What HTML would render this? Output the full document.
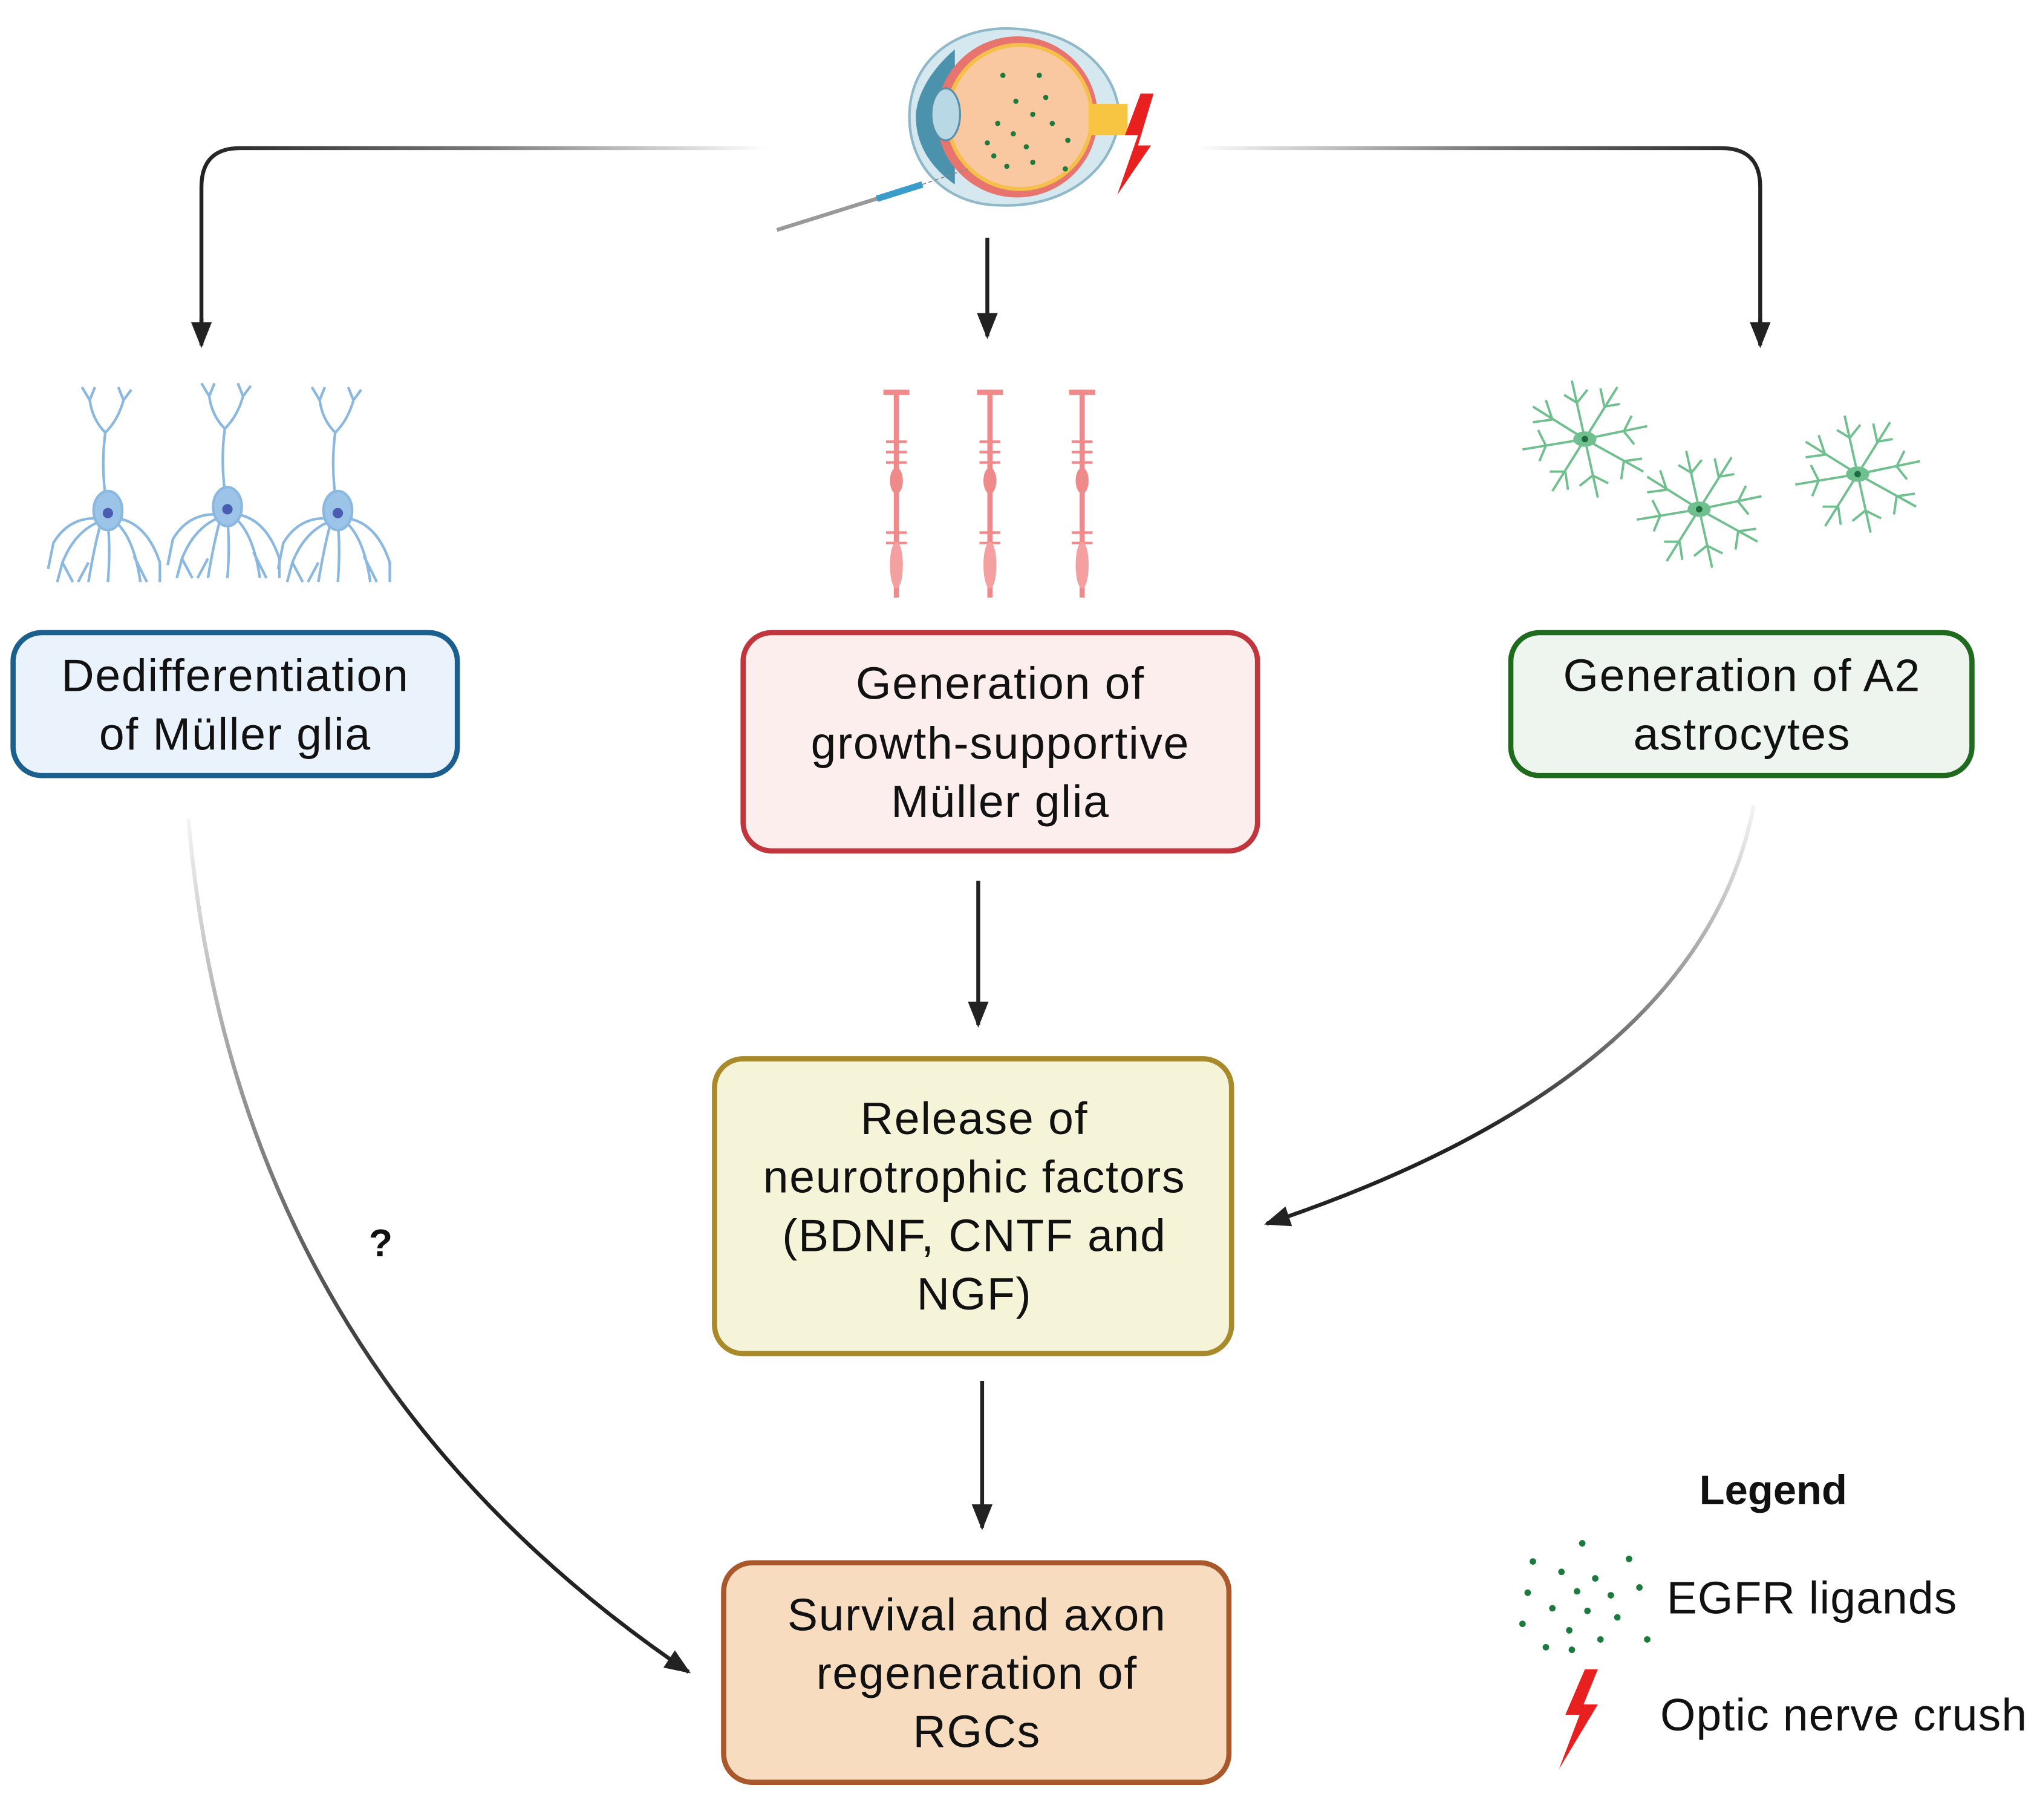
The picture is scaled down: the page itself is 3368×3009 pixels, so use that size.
<!DOCTYPE html>
<html><head><meta charset="utf-8"><style>
html,body{margin:0;padding:0;background:#fff;}
svg{display:block;}
text{font-family:"Liberation Sans",sans-serif;}
</style></head><body>
<svg width="3368" height="3009" viewBox="0 0 1568 1401" xmlns="http://www.w3.org/2000/svg">
<defs>
<linearGradient id="gl" x1="590" y1="0" x2="155" y2="0" gradientUnits="userSpaceOnUse"><stop offset="0" stop-color="#222" stop-opacity="0"/><stop offset="0.5" stop-color="#222" stop-opacity="0.6"/><stop offset="1" stop-color="#222"/></linearGradient>
<linearGradient id="gr" x1="920" y1="0" x2="1355" y2="0" gradientUnits="userSpaceOnUse"><stop offset="0" stop-color="#222" stop-opacity="0"/><stop offset="0.5" stop-color="#222" stop-opacity="0.6"/><stop offset="1" stop-color="#222"/></linearGradient>
<linearGradient id="gc1" x1="0" y1="630" x2="0" y2="1100" gradientUnits="userSpaceOnUse"><stop offset="0" stop-color="#222" stop-opacity="0.05"/><stop offset="1" stop-color="#222"/></linearGradient>
<linearGradient id="gc2" x1="1350" y1="620" x2="1150" y2="880" gradientUnits="userSpaceOnUse"><stop offset="0" stop-color="#222" stop-opacity="0.05"/><stop offset="1" stop-color="#222"/></linearGradient>
<marker id="ah2" markerWidth="20" markerHeight="20" refX="18" refY="10" orient="auto" markerUnits="userSpaceOnUse" viewBox="0 0 20 20"><path d="M0,2 L20,10 L0,18 Z" fill="#222"/></marker>
<g id="neuron" stroke="#8ab8e0" stroke-width="2" fill="none">
<path d="M0,0 Q-6,-30 -2,-60 M-2,-60 Q-12,-70 -14,-85 M-2,-60 Q8,-70 12,-85 M-14,-85 l-6,-10 M-14,-85 l4,-10 M12,-85 l-4,-10 M12,-85 l6,-8"/>
<path d="M-5,8 Q-25,15 -35,40 l-4,15 M-35,40 l8,15 M-5,8 Q-10,25 -15,55 M-15,40 l-8,15 M0,10 Q2,30 0,55 M5,8 Q20,20 25,55 M20,35 l10,20 M8,6 Q30,10 40,40 l0,15 M-8,6 Q-30,5 -42,25 l-4,20"/>
<ellipse cx="0" cy="0" rx="11" ry="15" fill="#9cc3e8" stroke="#8ab8e0"/>
<circle cx="0" cy="2" r="4" fill="#4a5cb0" stroke="none"/>
</g>
<g id="muller" fill="#f08a8a" stroke="#f08a8a">
<rect x="-10" y="0" width="20" height="4" stroke="none"/>
<rect x="-2" y="0" width="4" height="160" stroke="none"/>
<path d="M-8,40 h16 M-8,48 h16 M-8,56 h16 M-8,110 h16 M-8,118 h16" stroke-width="2" fill="none"/>
<ellipse cx="0" cy="70" rx="5" ry="10" stroke="none"/>
<ellipse cx="0" cy="135" rx="5" ry="18" stroke="none" fill="#f4a0a0"/>
</g>
<g id="astro" stroke="#6fc08e" stroke-width="1.8" fill="none">
<path d="M0,0 L-40,-25 M-25,-15 l-5,-15 M-25,-15 l-15,2 M0,0 L-10,-45 M-6,-28 l-10,-6 M-6,-28 l8,-10 M0,0 L25,-40 M15,-25 l12,-2 M15,-25 l-3,-14 M0,0 L48,-10 M30,-6 l6,-12 M30,-6 l8,10 M0,0 L45,25 M30,17 l-2,14 M30,17 l14,-2 M0,0 L10,45 M6,28 l-10,8 M6,28 l12,6 M0,0 L-25,40 M-15,25 l-12,0 M-15,25 l2,14 M0,0 L-48,8 M-30,5 l-6,-12 M-30,5 l-5,12"/>
<ellipse cx="0" cy="0" rx="8" ry="5" fill="#6fc08e"/>
<circle cx="0" cy="0" r="2.5" fill="#1d6b3e" stroke="none"/>
</g>
</defs>

<path d="M590,114 H185 Q155,114 155,144 V262" fill="none" stroke="url(#gl)" stroke-width="3"/>
<path d="M920,114 H1325 Q1355,114 1355,144 V262" fill="none" stroke="url(#gr)" stroke-width="3"/>
<path d="M155,245 V266" stroke="#222" stroke-width="3" marker-end="url(#ah2)"/>
<path d="M1355,245 V266" stroke="#222" stroke-width="3" marker-end="url(#ah2)"/>
<path d="M760,183 V259" stroke="#222" stroke-width="3" marker-end="url(#ah2)"/>
<path d="M753,678 V789" stroke="#222" stroke-width="3" marker-end="url(#ah2)"/>
<path d="M756,1063 V1176" stroke="#222" stroke-width="3" marker-end="url(#ah2)"/>
<path d="M145,630 Q180,1050 530,1287" fill="none" stroke="url(#gc1)" stroke-width="3"/>
<path d="M515,1277 L530,1287" stroke="#222" stroke-width="3" marker-end="url(#ah2)"/>
<path d="M1350,620 Q1310,830 975,942" fill="none" stroke="url(#gc2)" stroke-width="3"/>
<path d="M990,937 L975,942" stroke="#222" stroke-width="3" marker-end="url(#ah2)"/>
<text x="293" y="967" font-size="30" font-weight="bold" text-anchor="middle" fill="#111">?</text>

<g>
<path d="M770,22 C840,20 868,70 860,100 C850,140 810,160 770,158 C730,158 700,130 700,90 C700,50 730,24 770,22 Z" fill="#d6e8ef" stroke="#8fb9c9" stroke-width="2"/>
<path d="M735,38 C715,55 705,75 705,90 C705,110 715,128 735,142 Z" fill="#4b93ad"/>
<circle cx="783" cy="90" r="62" fill="#e7746f"/>
<circle cx="785" cy="90" r="57" fill="#f5c04a"/>
<circle cx="785" cy="90" r="54" fill="#f9c7a0"/>
<ellipse cx="728" cy="88" rx="11" ry="20" fill="#b8d8e6" stroke="#5590a8" stroke-width="1.5"/>
<rect x="838" y="80" width="30" height="24" fill="#f7c541"/>
<g fill="#1d7a3e">
<circle cx="772" cy="58" r="2"/><circle cx="800" cy="58" r="2"/><circle cx="782" cy="78" r="2"/><circle cx="805" cy="75" r="2"/><circle cx="795" cy="88" r="2"/><circle cx="768" cy="95" r="2"/><circle cx="810" cy="95" r="2"/><circle cx="780" cy="103" r="2"/><circle cx="760" cy="110" r="2"/><circle cx="790" cy="113" r="2"/><circle cx="765" cy="120" r="2"/><circle cx="795" cy="125" r="2"/><circle cx="822" cy="108" r="2"/><circle cx="775" cy="128" r="2"/><circle cx="820" cy="130" r="2"/>
</g>
<path d="M878,72 L866,104 L876,104 L860,150 L886,112 L876,112 L888,72 Z" fill="#e82020"/>
<path d="M598,177 L710,142" stroke="#999" stroke-width="3"/>
<path d="M675,153 L710,142" stroke="#3a9cc8" stroke-width="5"/>
<path d="M710,142 L745,130" stroke="#888" stroke-width="0.8" stroke-dasharray="3,2"/>
</g>

<use href="#neuron" x="83" y="393"/><use href="#neuron" x="175" y="390"/><use href="#neuron" x="260" y="393"/>
<use href="#muller" x="690" y="300"/><use href="#muller" x="762" y="300"/><use href="#muller" x="833" y="300"/>
<use href="#astro" x="1220" y="338"/><use href="#astro" x="1308" y="392"/><use href="#astro" x="1430" y="365"/>

<g font-size="35" letter-spacing="0.8" fill="#111" text-anchor="middle">
<rect x="10" y="487" width="342" height="110" rx="22" fill="#eaf3fb" stroke="#1a5f8e" stroke-width="4"/>
<text x="181" y="532">Dedifferentiation</text><text x="181" y="577">of Müller glia</text>
<rect x="572" y="487" width="396" height="168" rx="22" fill="#fdeeee" stroke="#c0363c" stroke-width="4"/>
<text x="770" y="538">Generation of</text><text x="770" y="584">growth-supportive</text><text x="770" y="629">Müller glia</text>
<rect x="1163" y="487" width="355" height="110" rx="22" fill="#eef5ee" stroke="#1e6b1e" stroke-width="4"/>
<text x="1341" y="532">Generation of A2</text><text x="1341" y="577">astrocytes</text>
<rect x="550" y="815" width="398" height="227" rx="22" fill="#f5f3d8" stroke="#a88a2a" stroke-width="4"/>
<text x="750" y="873">Release of</text><text x="750" y="918">neurotrophic factors</text><text x="750" y="963">(BDNF, CNTF and</text><text x="750" y="1008">NGF)</text>
<rect x="557" y="1203" width="389" height="169" rx="22" fill="#f7dcc0" stroke="#a8582a" stroke-width="4"/>
<text x="752" y="1255">Survival and axon</text><text x="752" y="1300">regeneration of</text><text x="752" y="1345">RGCs</text>
</g>

<text x="1365" y="1158" font-size="32" font-weight="bold" text-anchor="middle" fill="#111">Legend</text>
<g fill="#1d7a3e">
<circle cx="1180" cy="1202" r="2.5"/><circle cx="1218" cy="1188" r="2.5"/><circle cx="1254" cy="1200" r="2.5"/><circle cx="1202" cy="1210" r="2.5"/><circle cx="1228" cy="1215" r="2.5"/><circle cx="1176" cy="1226" r="2.5"/><circle cx="1214" cy="1225" r="2.5"/><circle cx="1240" cy="1228" r="2.5"/><circle cx="1262" cy="1222" r="2.5"/><circle cx="1195" cy="1238" r="2.5"/><circle cx="1222" cy="1240" r="2.5"/><circle cx="1245" cy="1245" r="2.5"/><circle cx="1172" cy="1250" r="2.5"/><circle cx="1208" cy="1255" r="2.5"/><circle cx="1232" cy="1262" r="2.5"/><circle cx="1268" cy="1262" r="2.5"/><circle cx="1190" cy="1268" r="2.5"/><circle cx="1210" cy="1270" r="2.5"/>
</g>
<text x="1283" y="1242" font-size="35" letter-spacing="0.5" fill="#111">EGFR ligands</text>
<path d="M1220,1285 L1205,1320 L1216,1320 L1200,1362 L1230,1312 L1219,1312 L1230,1285 Z" fill="#e82020"/>
<text x="1278" y="1332" font-size="35" letter-spacing="0.5" fill="#111">Optic nerve crush</text>
</svg>
</body></html>
